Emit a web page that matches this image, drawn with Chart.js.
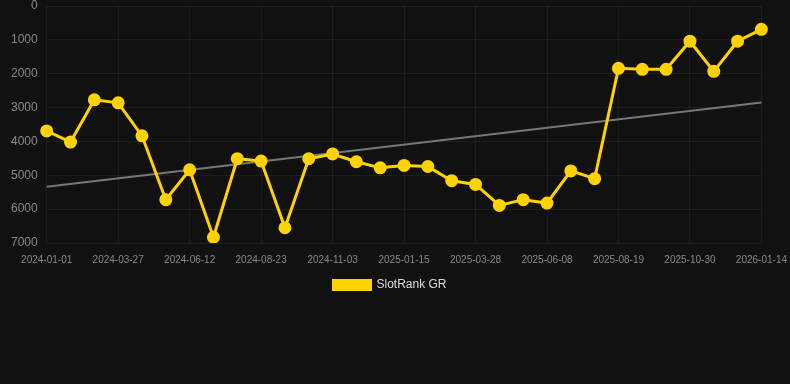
<!DOCTYPE html>
<html>
<head>
<meta charset="utf-8">
<script src="https://cdn.jsdelivr.net/npm/chart.js@4"></script>
<style>
  html, body { margin: 0; padding: 0; background: #111111; overflow: hidden; }
  #wrap { width: 790px; height: 384px; overflow: hidden; }
  #rankChart { display: block; margin-top: -2px; }
</style>
</head>
<body>
<div id="wrap"><canvas id="rankChart" width="790" height="386"></canvas></div>
<script>
// 資料
const dates = [
  '2024-01-01', '2024-01-29', '2024-02-27', '2024-03-27', '2024-04-22', '2024-05-18',
  '2024-06-12', '2024-07-06', '2024-07-30', '2024-08-23', '2024-09-16', '2024-10-10',
  '2024-11-03', '2024-11-27', '2024-12-22', '2025-01-15', '2025-02-08', '2025-03-04',
  '2025-03-28', '2025-04-21', '2025-05-15', '2025-06-08', '2025-07-02', '2025-07-26',
  '2025-08-19', '2025-09-12', '2025-10-06', '2025-10-30', '2025-11-25', '2025-12-20',
  '2026-01-14'
];
const rankValues = [
  3690, 4020, 2770, 2860, 3835, 5720, 4840, 6830, 4510, 4580, 6550,
  4510, 4370, 4600, 4780, 4710, 4740, 5160, 5270, 5890, 5720, 5820,
  4870, 5100, 1840, 1870, 1870, 1040, 1930, 1040, 690
];
// 趨勢線兩端
const trendStart = 5340;
const trendEnd = 2850;
const trendValues = dates.map((d, i) => i === 0 ? trendStart : (i === dates.length - 1 ? trendEnd : null));

const yTicks = [0, 1000, 2000, 3000, 4000, 5000, 6000, 7000];

// 圖例稍微左移
const legendShift = {
  id: 'legendShift',
  afterLayout(chart) {
    chart.legend.left -= 7;
    chart.legend.right -= 7;
  }
};

new Chart(document.getElementById('rankChart'), {
  type: 'line',
  data: {
    labels: dates,
    datasets: [{
      label: 'SlotRank GR',
      data: rankValues,
      borderColor: '#FFD200',
      backgroundColor: '#FFD200',
      borderWidth: 3,
      pointRadius: 5,
      pointHoverRadius: 5,
      tension: 0,
      fill: false,
      order: 1
    }, {
      label: 'trend',
      data: trendValues,
      borderColor: '#777777',
      borderWidth: 2,
      pointRadius: 0,
      spanGaps: true,
      fill: false,
      order: 2
    }]
  },
  plugins: [legendShift],
  options: {
    responsive: false,
    animation: false,
    layout: { padding: { left: 8, right: 4, top: 0, bottom: 83 } },
    scales: {
      x: {
        grid: { color: 'rgba(255,255,255,0.05)', drawTicks: true, tickLength: 8, tickColor: 'transparent' },
        border: { display: false },
        ticks: {
          color: '#888888',
          font: { family: 'Liberation Sans, Arial, sans-serif', size: 10 },
          padding: 3,
          maxRotation: 0,
          autoSkip: true,
          maxTicksLimit: 11
        }
      },
      y: {
        reverse: true,
        min: 0,
        max: 7000,
        afterBuildTicks: axis => { axis.ticks = yTicks.map(v => ({ value: v })); },
        grid: { color: 'rgba(255,255,255,0.05)', drawTicks: true, tickLength: 6, tickColor: 'transparent' },
        border: { display: false },
        ticks: {
          color: '#888888',
          font: { family: 'Liberation Sans, Arial, sans-serif', size: 12, lineHeight: 0.5 },
          padding: 3,
          callback: v => String(v)
        }
      }
    },
    plugins: {
      legend: {
        position: 'bottom',
        labels: {
          color: '#dddddd',
          font: { family: 'Liberation Sans, Arial, sans-serif', size: 12 },
          boxWidth: 37,
          boxHeight: 9,
          filter: item => item.datasetIndex === 0
        }
      },
      tooltip: { enabled: false }
    }
  }
});
</script>
</body>
</html>
